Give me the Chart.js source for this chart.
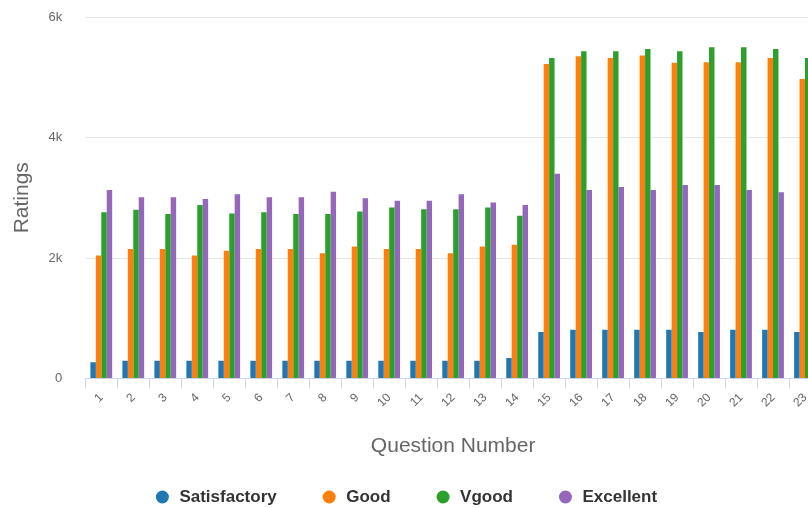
<!DOCTYPE html>
<html>
<head>
<meta charset="utf-8">
<script src="https://cdn.jsdelivr.net/npm/chart.js@4"></script>
<style>
  html, body { margin: 0; padding: 0; background: #fff; overflow: hidden; }
  #wrap { width: 821px; height: 508px; }
</style>
</head>
<body>
<div id="wrap"><canvas id="chart" width="821" height="508"></canvas></div>
<script>
// question numbers along the x axis
const questions = ['1', '2', '3', '4', '5', '6', '7', '8', '9', '10', '11', '12',
  '13', '14', '15', '16', '17', '18', '19', '20', '21', '22', '23'];

// ratings count per question
const satisfactory = [270, 295, 295, 295, 295, 295, 295, 295, 295, 295, 295, 295,
  295, 340, 770, 810, 810, 810, 810, 770, 810, 810, 770];
const good = [2040, 2150, 2150, 2040, 2120, 2150, 2150, 2080, 2190, 2150, 2150, 2080,
  2190, 2220, 5220, 5350, 5320, 5360, 5240, 5250, 5250, 5320, 4970];
const vgood = [2760, 2800, 2730, 2880, 2740, 2760, 2730, 2730, 2770, 2840, 2810, 2810,
  2840, 2700, 5320, 5430, 5430, 5470, 5430, 5500, 5500, 5470, 5320];
const excellent = [3130, 3010, 3010, 2980, 3060, 3010, 3010, 3100, 2990, 2950, 2950, 3060,
  2920, 2880, 3400, 3130, 3180, 3130, 3210, 3210, 3130, 3090, 3100];

const yTicks = [0, 2000, 4000, 6000];

const COLORS = {
  satisfactory: '#1f77b4',
  good: '#ff7f0e',
  vgood: '#2ca02c',
  excellent: '#9467bd',
  grid: '#e6e6e6',
  axis: '#ccd6eb',
  text: '#666666',
};

const FONT = '"Liberation Sans", Arial, sans-serif';

function barSet(label, data, color) {
  return {
    label, data, backgroundColor: color, borderWidth: 0,
    categoryPercentage: 0.68, barPercentage: 1.0,
  };
}

// plot runs past the right edge of the page, keep the legend centred on the visible part
const legendCentre = {
  id: 'legendCentre',
  afterLayout(chart) {
    if (chart.legend) chart.legend.right = 811;
  },
};

new Chart(document.getElementById('chart'), {
  type: 'bar',
  data: {
    labels: questions,
    datasets: [
      barSet('Satisfactory', satisfactory, COLORS.satisfactory),
      barSet('Good', good, COLORS.good),
      barSet('Vgood', vgood, COLORS.vgood),
      barSet('Excellent', excellent, COLORS.excellent),
    ],
  },
  plugins: [legendCentre],
  options: {
    responsive: false,
    animation: false,
    layout: { padding: { top: 17, left: 0, right: 0, bottom: 0 } },
    plugins: {
      tooltip: { enabled: false },
      legend: {
        position: 'bottom',
        maxHeight: 63.5,
        labels: {
          usePointStyle: true,
          pointStyle: 'circle',
          boxHeight: 9.2,
          boxWidth: 17,
          padding: 44,
          color: '#333333',
          font: { family: FONT, size: 17, weight: 'bold' },
        },
      },
    },
    scales: {
      x: {
        afterFit: (scale) => { scale.height = 66; },
        grid: { drawOnChartArea: false, color: COLORS.axis, tickLength: 10 },
        border: { color: COLORS.axis, width: 1 },
        ticks: {
          color: COLORS.text, minRotation: 45, maxRotation: 45, padding: 2,
          autoSkip: false, font: { family: FONT, size: 12 },
        },
        title: {
          display: true, text: 'Question Number', color: COLORS.text,
          font: { family: FONT, size: 21 }, padding: { top: 0, bottom: -14 },
        },
      },
      y: {
        min: 0,
        max: 6000,
        afterFit: (scale) => { scale.width = 85.3; },
        afterBuildTicks: (scale) => { scale.ticks = yTicks.map((v) => ({ value: v })); },
        grid: { color: COLORS.grid, drawTicks: true, tickLength: 20, tickColor: 'rgba(0,0,0,0)' },
        border: { display: false },
        ticks: {
          color: COLORS.text, padding: 3, font: { family: FONT, size: 13 },
          callback: (v) => (v === 0 ? '0' : (v / 1000) + 'k'),
        },
        title: {
          display: true, text: 'Ratings', color: COLORS.text,
          font: { family: FONT, size: 21 }, padding: { top: 10, bottom: 0 },
        },
      },
    },
  },
});
</script>
</body>
</html>
